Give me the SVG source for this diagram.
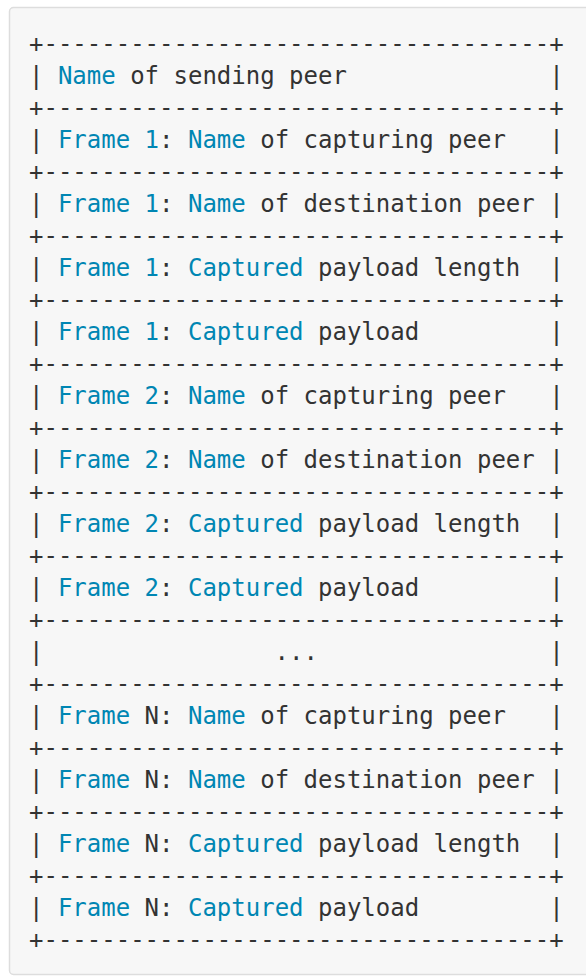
<svg xmlns="http://www.w3.org/2000/svg" width="586" height="978" viewBox="0 0 586 978">
<style>
.code{font-family:"DejaVu Sans Mono",monospace;font-size:24px;fill:#333333}
.k{fill:#0086b3}
</style>
<rect width="586" height="978" fill="#ffffff"/>
<g id="codeblock">
<rect x="9.5" y="7.5" width="600" height="967" rx="4" fill="#f7f7f7" stroke="#dddddd" stroke-width="1.5"/>
</g>
<g id="table" class="code">
<text x="29" y="52">+-----------------------------------+</text>
<text x="29" y="84">| <tspan class="k">Name</tspan> of sending peer<tspan x="549.2">|</tspan></text>
<text x="29" y="116">+-----------------------------------+</text>
<text x="29" y="148">| <tspan class="k">Frame</tspan> <tspan class="k">1</tspan>: <tspan class="k">Name</tspan> of capturing peer<tspan x="549.2">|</tspan></text>
<text x="29" y="180">+-----------------------------------+</text>
<text x="29" y="212">| <tspan class="k">Frame</tspan> <tspan class="k">1</tspan>: <tspan class="k">Name</tspan> of destination peer<tspan x="549.2">|</tspan></text>
<text x="29" y="244">+-----------------------------------+</text>
<text x="29" y="276">| <tspan class="k">Frame</tspan> <tspan class="k">1</tspan>: <tspan class="k">Captured</tspan> payload length<tspan x="549.2">|</tspan></text>
<text x="29" y="308">+-----------------------------------+</text>
<text x="29" y="340">| <tspan class="k">Frame</tspan> <tspan class="k">1</tspan>: <tspan class="k">Captured</tspan> payload<tspan x="549.2">|</tspan></text>
<text x="29" y="372">+-----------------------------------+</text>
<text x="29" y="404">| <tspan class="k">Frame</tspan> <tspan class="k">2</tspan>: <tspan class="k">Name</tspan> of capturing peer<tspan x="549.2">|</tspan></text>
<text x="29" y="436">+-----------------------------------+</text>
<text x="29" y="468">| <tspan class="k">Frame</tspan> <tspan class="k">2</tspan>: <tspan class="k">Name</tspan> of destination peer<tspan x="549.2">|</tspan></text>
<text x="29" y="500">+-----------------------------------+</text>
<text x="29" y="532">| <tspan class="k">Frame</tspan> <tspan class="k">2</tspan>: <tspan class="k">Captured</tspan> payload length<tspan x="549.2">|</tspan></text>
<text x="29" y="564">+-----------------------------------+</text>
<text x="29" y="596">| <tspan class="k">Frame</tspan> <tspan class="k">2</tspan>: <tspan class="k">Captured</tspan> payload<tspan x="549.2">|</tspan></text>
<text x="29" y="628">+-----------------------------------+</text>
<text x="29" y="660">|<tspan x="274.6">...</tspan><tspan x="549.2">|</tspan></text>
<text x="29" y="692">+-----------------------------------+</text>
<text x="29" y="724">| <tspan class="k">Frame</tspan> N: <tspan class="k">Name</tspan> of capturing peer<tspan x="549.2">|</tspan></text>
<text x="29" y="756">+-----------------------------------+</text>
<text x="29" y="788">| <tspan class="k">Frame</tspan> N: <tspan class="k">Name</tspan> of destination peer<tspan x="549.2">|</tspan></text>
<text x="29" y="820">+-----------------------------------+</text>
<text x="29" y="852">| <tspan class="k">Frame</tspan> N: <tspan class="k">Captured</tspan> payload length<tspan x="549.2">|</tspan></text>
<text x="29" y="884">+-----------------------------------+</text>
<text x="29" y="916">| <tspan class="k">Frame</tspan> N: <tspan class="k">Captured</tspan> payload<tspan x="549.2">|</tspan></text>
<text x="29" y="948">+-----------------------------------+</text>
</g>
</svg>
